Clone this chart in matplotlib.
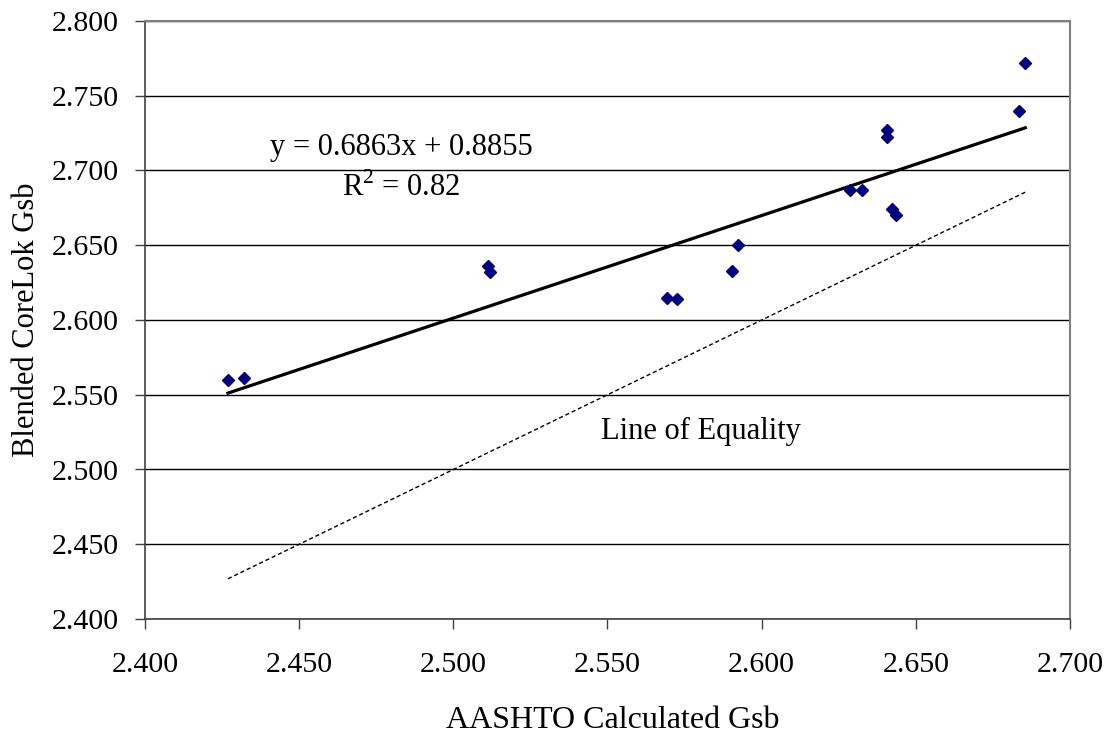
import matplotlib
matplotlib.use("Agg")
import matplotlib.pyplot as plt
import numpy as np

aashto_gsb = [2.4269, 2.4321, 2.5111, 2.5120, 2.5693, 2.5724, 2.5904, 2.5923,
              2.6285, 2.6324, 2.6405, 2.6405, 2.6424, 2.6435, 2.6835, 2.6855]
corelok_gsb = [2.5599, 2.5612, 2.6363, 2.6319, 2.6149, 2.6138, 2.6330, 2.6502,
               2.6870, 2.6870, 2.7271, 2.7226, 2.6742, 2.6702, 2.7400, 2.7721]
slope, intercept = 0.6863, 0.8855
eq_text = "y = 0.6863x + 0.8855"
r2_text = "R$^2$ = 0.82"
xticks = [2.400, 2.450, 2.500, 2.550, 2.600, 2.650, 2.700]
yticks = [2.400, 2.450, 2.500, 2.550, 2.600, 2.650, 2.700, 2.750, 2.800]

plt.rcParams['font.family'] = ['Liberation Serif', 'DejaVu Serif']
plt.rcParams['mathtext.fontset'] = 'custom'
plt.rcParams['mathtext.rm'] = 'Liberation Serif'

fig = plt.figure(figsize=(11.14, 7.36), dpi=100)
ax = fig.add_axes([145/1114, 1-619/736, (1070-145)/1114, (619-21)/736])

x = np.array(aashto_gsb)
xs = np.array([x.min(), x.max()])
ax.plot(xs, xs, color='black', lw=1.0, ls=(0, (3, 2)), zorder=2)
ax.plot(xs, slope*xs + intercept, color='black', lw=2.3, zorder=3)
ax.plot(aashto_gsb, corelok_gsb, ls='none', marker='D', color='#000080',
        markersize=6.5, zorder=4)

ax.set_xlim(2.4, 2.7)
ax.set_ylim(2.4, 2.8)
ax.set_xticks(xticks)
ax.set_yticks(yticks)
ax.set_xticklabels([f"{v:.3f}" for v in xticks])
ax.set_yticklabels([f"{v:.3f}" for v in yticks])
ax.yaxis.grid(True, color='black', lw=1.0)
ax.set_axisbelow(True)
ax.tick_params(axis='both', direction='out', length=7, width=1, labelsize=21.5,
               color='#404040')
ax.tick_params(axis='y', pad=12)
ax.tick_params(axis='x', pad=17)
for s in ['left', 'bottom']:
    ax.spines[s].set_color('#404040')
    ax.spines[s].set_linewidth(1.2)
for s in ['top', 'right']:
    ax.spines[s].set_color('#808080')
    ax.spines[s].set_linewidth(1.5)

ax.set_xlabel("AASHTO Calculated Gsb", fontsize=23, va='center')
ax.xaxis.set_label_coords((613-145)/925, (619-721)/598)
ax.set_ylabel("Blended CoreLok Gsb", fontsize=22, va='center')
ax.yaxis.set_label_coords((26-145)/925, 0.5)

ax.text(2.4831, 2.7157, eq_text, ha='center', va='center', fontsize=22)
ax.text(2.4831, 2.6883, r2_text, ha='center', va='center', fontsize=22)
ax.text(2.5802, 2.5251, "Line of Equality", ha='center', va='center', fontsize=22)

fig.savefig("out.png", dpi=100)
